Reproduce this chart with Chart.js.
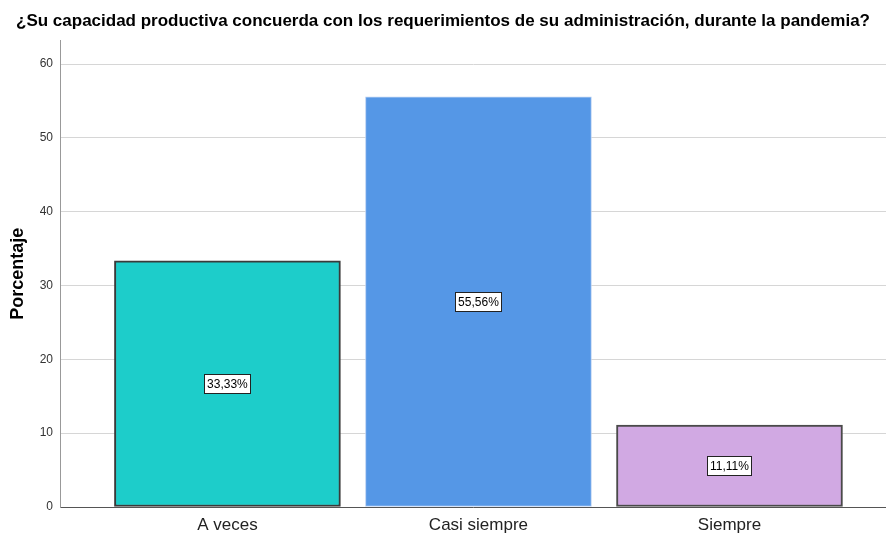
<!DOCTYPE html>
<html>
<head>
<meta charset="utf-8">
<script src="https://cdn.jsdelivr.net/npm/chart.js@4"></script>
<style>
  html, body { margin: 0; padding: 0; background: #fff; }
  #wrap { width: 886px; height: 536px; }
</style>
</head>
<body>
<div id="wrap"><canvas id="my-chart"></canvas></div>
<script>
'use strict';

//  DATA
let titleText = '¿Su capacidad productiva concuerda con los requerimientos de su administración, durante la pandemia?';
let categories = ['A veces', 'Casi siempre', 'Siempre'];
let percentages = [33.33, 55.56, 11.11];
let barColors = ['#1dcdca', '#5597e6', '#d1a9e3'];
let barEdges = ['#3a3a3a', '#b8d0f2', '#4a4a4a'];
let yTicks = [0, 10, 20, 30, 40, 50, 60];

// draws the white boxed value in the middle of each bar
let boxLabels = {
  id: 'boxLabels',
  afterDatasetsDraw(chart) {
    let ctx = chart.ctx;
    let meta = chart.getDatasetMeta(0);
    ctx.save();
    ctx.font = '12px "Liberation Sans", Arial, sans-serif';
    ctx.textAlign = 'center';
    ctx.textBaseline = 'middle';
    meta.data.forEach(function (bar, i) {
      let txt = percentages[i].toFixed(2).replace('.', ',') + '%';
      let mid = (bar.y + bar.base) / 2;
      let w = Math.round(ctx.measureText(txt).width + 5);
      let h = 19;
      let left = Math.round(bar.x - w / 2) + 0.5;
      let top = Math.round(mid - h / 2) + 0.5;
      ctx.fillStyle = '#fff';
      ctx.fillRect(left, top, w, h);
      ctx.strokeStyle = '#222';
      ctx.lineWidth = 1;
      ctx.strokeRect(left, top, w, h);
      ctx.fillStyle = '#000';
      ctx.fillText(txt, bar.x, mid + 1);
    });
    ctx.restore();
  }
};

let canvasElem = document.getElementById('my-chart');

new Chart(canvasElem, {
  type: 'bar',
  data: {
    datasets: [{
      data: percentages.map((v, i) => ({ x: i + 1, y: v })),
      backgroundColor: barColors,
      borderColor: barEdges,
      borderWidth: [2, 1, 2],
      borderSkipped: false,
      barThickness: 226
    }]
  },
  options: {
    responsive: true,
    maintainAspectRatio: false,
    animation: false,
    layout: { padding: 0 },
    plugins: {
      legend: { display: false },
      tooltip: { enabled: false },
      title: {
        display: true,
        text: titleText,
        color: '#000',
        font: { family: '"Liberation Sans", Arial, sans-serif', size: 17, weight: 'bold' },
        padding: { top: 11, bottom: 9 }
      }
    },
    scales: {
      x: {
        type: 'linear',
        offset: false,
        min: 0.333,
        max: 3.6235,
        afterBuildTicks(scale) {
          scale.ticks = categories.map((c, i) => ({ value: i + 1 }));
        },
        afterFit(scale) { scale.height = 29; },
        grid: { display: false, drawTicks: false, offset: false },
        border: { color: '#555', width: 1 },
        ticks: {
          padding: 8,
          color: '#222',
          font: { family: '"Liberation Sans", Arial, sans-serif', size: 17 },
          callback: (v) => categories[v - 1]
        }
      },
      y: {
        min: 0,
        max: 63.2,
        afterBuildTicks(scale) {
          scale.ticks = yTicks.map((t) => ({ value: t }));
        },
        afterFit(scale) { scale.width = 60; },
        grid: { color: '#d6d6d6', lineWidth: 1, drawTicks: false },
        border: { color: '#999', width: 1 },
        ticks: {
          padding: 7,
          color: '#333',
          font: { family: '"Liberation Sans", Arial, sans-serif', size: 12 }
        },
        title: {
          display: true,
          text: 'Porcentaje',
          color: '#000',
          padding: { top: 7, bottom: 0 },
          font: { family: '"Liberation Sans", Arial, sans-serif', size: 18, weight: 'bold' }
        }
      }
    }
  },
  plugins: [boxLabels]
});
</script>
</body>
</html>
